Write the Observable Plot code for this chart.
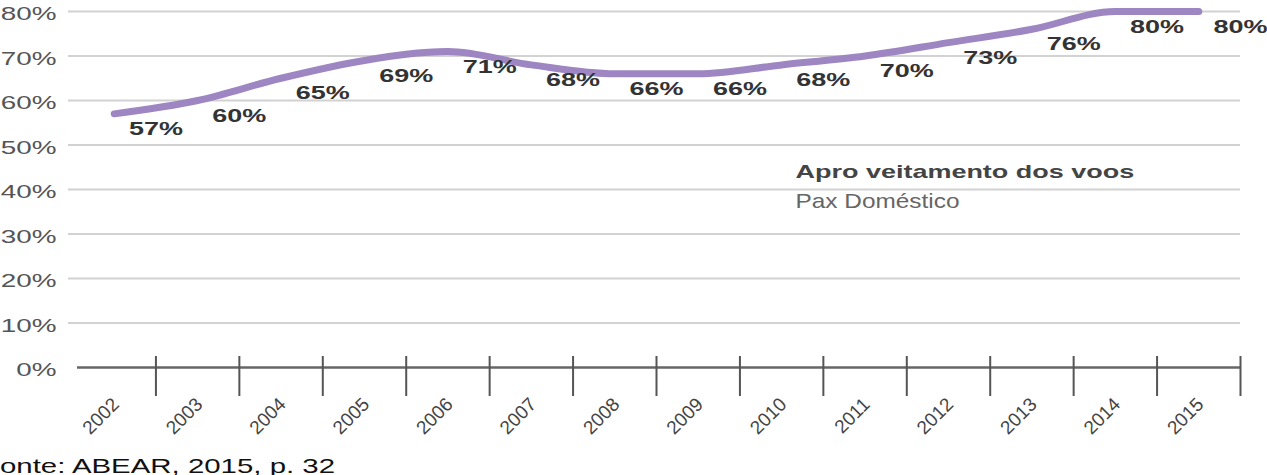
<!DOCTYPE html>
<html>
<head>
<meta charset="utf-8">
<script src="https://cdn.jsdelivr.net/npm/d3@7"></script>
<script src="https://cdn.jsdelivr.net/npm/@observablehq/plot@0.6"></script>
<style>
  html, body { margin: 0; padding: 0; background: #fff; overflow: hidden; }
  #chart { width: 1267px; }
  #caption {
    font-family: "Liberation Sans", Arial, sans-serif;
    font-size: 21px; color: #111; white-space: nowrap;
    position: relative; left: -18px; line-height: 24px;
    transform: scaleX(1.4); transform-origin: 0 0;
  }
</style>
</head>
<body>
<div id="chart"></div>
<div id="caption"></div>
<script>
// ---- data ----
const years = [2002, 2003, 2004, 2005, 2006, 2007, 2008, 2009, 2010, 2011, 2012, 2013, 2014, 2015];
const loadFactor = [0.57, 0.60, 0.65, 0.69, 0.71, 0.68, 0.66, 0.66, 0.68, 0.70, 0.73, 0.76, 0.80, 0.80];
const yTicks = [0, 0.1, 0.2, 0.3, 0.4, 0.5, 0.6, 0.7, 0.8];
const legendTitle = "Apro veitamento dos voos";
const legendSubtitle = "Pax Doméstico";
const captionText = "Fonte: ABEAR, 2015, p. 32";

const data = years.map((year, i) => ({year, value: loadFactor[i]}));
const boundaries = years.map(y => y + 0.5);

const font = "Liberation Sans, Arial, sans-serif";
const W = 1267, H = 454, mL = 72, mR = 27, mT = 11, mB = 87;
const band = (W - mL - mR) / years.length;

const svg = Plot.plot({
  width: W, height: H,
  marginLeft: mL, marginRight: mR, marginTop: mT, marginBottom: mB,
  style: {fontFamily: font, background: "#fff", overflow: "visible"},
  x: {domain: [years[0] - 0.5, years[years.length - 1] + 0.5], axis: null},
  y: {domain: [0, 0.8], axis: null},
  marks: [
    // gridlines
    Plot.ruleY(yTicks.filter(d => d > 0), {stroke: "#d2d2d2", strokeWidth: 2, insetLeft: -4}),
    // baseline
    Plot.ruleY([0], {stroke: "#666", strokeWidth: 2.5, insetLeft: 5}),
    // category boundary ticks
    Plot.tickX(boundaries, {x: d => d, stroke: "#555", strokeWidth: 2, insetTop: 345, insetBottom: -29}),
    // y labels
    Plot.text(yTicks, {y: d => d, text: d => Math.round(d * 100) + "%", frameAnchor: "left",
      textAnchor: "end", dx: -16, dy: 3, fontSize: 18, fill: "#555"}),
    // x labels
    Plot.text(years, {x: d => d, text: d => String(d), frameAnchor: "bottom", rotate: -45,
      textAnchor: "end", dx: 6, dy: 38, fontSize: 19, fill: "#444"}),
    // line
    Plot.line(data, {x: "year", y: "value", stroke: "#9d86c1", strokeWidth: 7,
      curve: "monotone-x", strokeLinecap: "round", strokeLinejoin: "round"}),
    // value labels
    Plot.text(data, {x: "year", y: "value", text: d => Math.round(d.value * 100) + "%",
      dx: band / 2, dy: 15, fontSize: 19, fontWeight: "bold", fill: "#333"}),
    // legend
    Plot.text([legendTitle], {frameAnchor: "top-left", text: d => d, textAnchor: "start",
      dx: 723, dy: 153, fontSize: 19, fontWeight: "bold", fill: "#444"}),
    Plot.text([legendSubtitle], {frameAnchor: "top-left", text: d => d, textAnchor: "start",
      dx: 723, dy: 182, fontSize: 20, fill: "#666"})
  ]
});

// horizontal stretch of the non-rotated texts (the reference is widened)
svg.querySelectorAll("text").forEach(t => {
  const tr = t.getAttribute("transform") || "";
  if (tr.includes("rotate")) return;
  const g = t.parentNode;
  let s = 1.42;
  if (t.textContent === legendSubtitle) s = 1.22;
  else if (g && g.getAttribute && g.getAttribute("text-anchor") === "end") s = 1.55;
  t.setAttribute("transform", (tr ? tr + " " : "") + `scale(${s},1)`);
});

document.getElementById("chart").appendChild(svg);
document.getElementById("caption").textContent = captionText;
</script>
</body>
</html>
